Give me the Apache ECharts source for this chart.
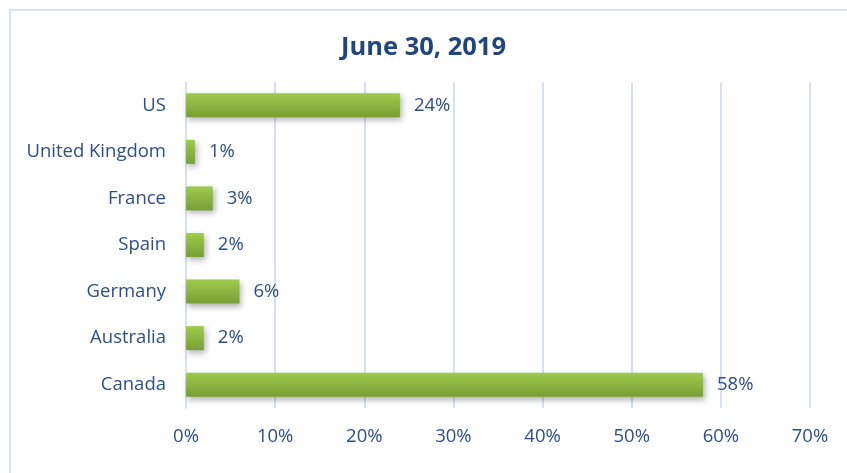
<!DOCTYPE html>
<html><head><meta charset="utf-8">
<script src="https://cdn.jsdelivr.net/npm/echarts@6/dist/echarts.min.js"></script>
<style>html,body{margin:0;padding:0;background:#fff}#c{width:847px;height:473px}</style>
</head><body><div id="c"></div>
<script>
const categories = ['US', 'United Kingdom', 'France', 'Spain', 'Germany', 'Australia', 'Canada'];
const values = [24, 1, 3, 2, 6, 2, 58];
const titleText = 'June 30, 2019';

const chart = echarts.init(document.getElementById('c'));
const textColor = '#2B4F88';
const font = '"Open Sans", "Liberation Sans", sans-serif';
chart.setOption({
  animation: false,
  graphic: [{
    type: 'rect', shape: { x: 10, y: 10, width: 860, height: 500 },
    style: { fill: 'none', stroke: '#D6E2F3', lineWidth: 2 }, silent: true, z: -1
  }],
  title: {
    text: titleText, left: 'center', top: 30,
    textStyle: { color: '#21467C', fontSize: 25.5, fontWeight: 'bold', fontFamily: font }
  },
  grid: { left: 186, right: 37, top: 82, bottom: 65, containLabel: false },
  xAxis: {
    type: 'value', min: 0, max: 70, interval: 10,
    axisLabel: { formatter: '{value}%', color: textColor, fontSize: 18.5, fontFamily: font, margin: 19 },
    splitLine: { lineStyle: { color: '#D6E2F3', width: 2 } },
    axisLine: { show: false }, axisTick: { show: false }
  },
  yAxis: {
    type: 'category', data: categories, inverse: true,
    axisLabel: { color: textColor, fontSize: 18.5, fontFamily: font, margin: 20 },
    axisLine: { show: true, lineStyle: { color: '#D6E2F3', width: 2 } },
    axisTick: { show: false }
  },
  series: [{
    type: 'bar', data: values, barWidth: 24,
    itemStyle: {
      color: new echarts.graphic.LinearGradient(0, 0, 0, 1, [
        { offset: 0, color: '#9FCB4C' }, { offset: 1, color: '#779F35' }
      ]),
      shadowColor: 'rgba(0,0,0,0.3)', shadowBlur: 6, shadowOffsetX: 2, shadowOffsetY: 3
    },
    label: {
      show: true, position: 'right', distance: 14, formatter: '{c}%',
      color: textColor, fontSize: 18.5, fontFamily: font
    }
  }]
});
</script></body></html>
